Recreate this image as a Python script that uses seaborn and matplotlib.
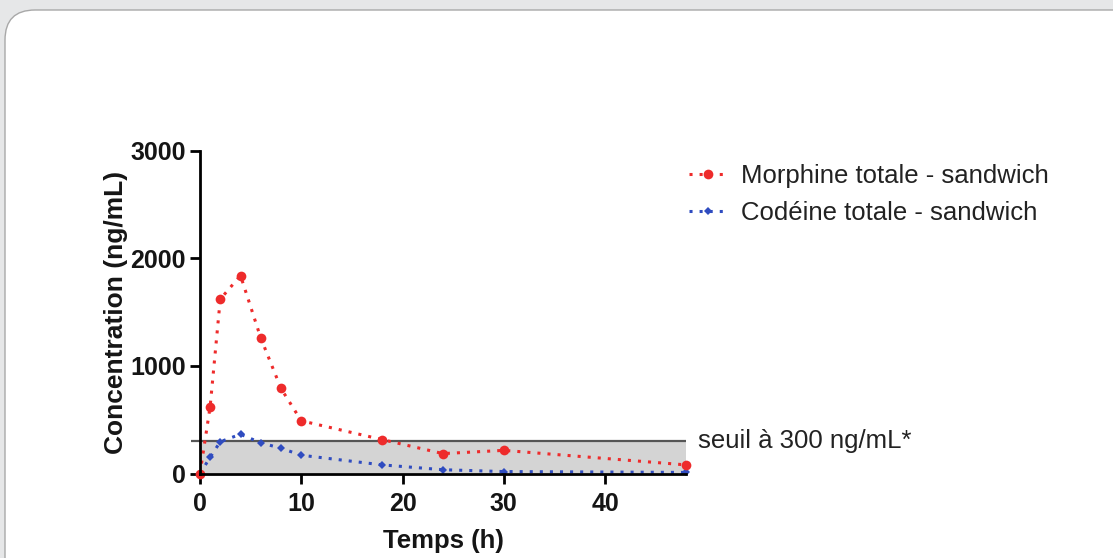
import numpy as np
import pandas as pd
import matplotlib
matplotlib.use("Agg")
import matplotlib.pyplot as plt
from matplotlib.patches import FancyBboxPatch
import seaborn as sns

# ==========================
# données
# ==========================
temps = [0, 1, 2, 4, 6, 8, 10, 18, 24, 30, 48]
morphine = [0, 620, 1620, 1840, 1260, 790, 490, 315, 185, 215, 80]
codeine = [0, 150, 295, 365, 285, 235, 170, 80, 35, 18, 10]
seuil = 300
label_morphine = "Morphine totale - sandwich"
label_codeine = "Codéine totale - sandwich"
texte_seuil = "seuil à 300 ng/mL*"
y_ticks = [0, 1000, 2000, 3000]
x_ticks = [0, 10, 20, 30, 40]

rouge = "#ee2b2b"
bleu = "#2f4cc0"
noir = "#151515"

sns.set_theme(style="white")
plt.rcParams['font.family'] = ['Liberation Sans', 'DejaVu Sans']

fig = plt.figure(figsize=(11.13, 5.58), dpi=100)
fig.patch.set_facecolor("#e6e7e8")

# panneau blanc arrondi (coordonnées en pixels)
panel = FancyBboxPatch((5, -100), 1300, 558 - 10 + 100,
                       boxstyle="round,pad=0,rounding_size=30",
                       transform=None, facecolor="white",
                       edgecolor="#a8a8a8", linewidth=1.0, zorder=-5)
fig.patches.append(panel)

ax = fig.add_axes([200 / 1113, 1 - 473.5 / 558, 486 / 1113, 322.8 / 558])
ax.set_facecolor("none")

# zone sous le seuil
ax.fill_between([temps[0], temps[-1]], 0, seuil, color="#d4d4d4", zorder=1, lw=0)
ax.hlines(seuil, temps[0] - 0.9, temps[-1], color="#555555", lw=1.6,
          zorder=2, clip_on=False)

df = pd.DataFrame({"Temps": temps, "Morphine": morphine, "Codeine": codeine})

sns.lineplot(data=df, x="Temps", y="Morphine", ax=ax, color=rouge,
             marker="o", markersize=7, markeredgewidth=0, lw=2.2,
             linestyle=(0, (1, 2.3)), label=label_morphine, zorder=4,
             clip_on=False)
sns.lineplot(data=df, x="Temps", y="Codeine", ax=ax, color=bleu,
             marker="D", markersize=4.5, markeredgewidth=0, lw=2.2,
             linestyle=(0, (1, 2.3)), label=label_codeine, zorder=3,
             clip_on=False)

ax.set_xlim(0, 48)
ax.set_ylim(0, 3000)
ax.set_xticks(x_ticks)
ax.set_yticks(y_ticks)

for s in ["top", "right"]:
    ax.spines[s].set_visible(False)
for s in ["left", "bottom"]:
    ax.spines[s].set_linewidth(2.0)
    ax.spines[s].set_color("black")
    ax.spines[s].set_zorder(5)

ax.tick_params(axis="both", which="major", direction="out", length=7,
               width=2.0, color="black", labelsize=18, labelcolor=noir,
               left=True, bottom=True)
ax.tick_params(axis="x", pad=6)
ax.tick_params(axis="y", pad=3)
for lab in ax.get_xticklabels() + ax.get_yticklabels():
    lab.set_fontweight("bold")

ax.set_xlabel("Temps (h)", fontsize=18.5, fontweight="bold", labelpad=10,
              color=noir)
ax.set_ylabel("Concentration (ng/mL)", fontsize=19, fontweight="bold",
              labelpad=2, color=noir)

ax.text(temps[-1] + 1.2, seuil, texte_seuil, fontsize=18.5, va="center",
        ha="left", color="#222222")

leg = ax.legend(loc="upper left", bbox_to_anchor=(681 / 1113, 1 - 156 / 558),
                bbox_transform=fig.transFigure, frameon=False, fontsize=18.5,
                handlelength=1.5, handletextpad=0.55, labelspacing=0.52,
                borderaxespad=0, borderpad=0.3)
for t in leg.get_texts():
    t.set_color("#222222")

plt.savefig("out.png", dpi=100, facecolor=fig.get_facecolor())
